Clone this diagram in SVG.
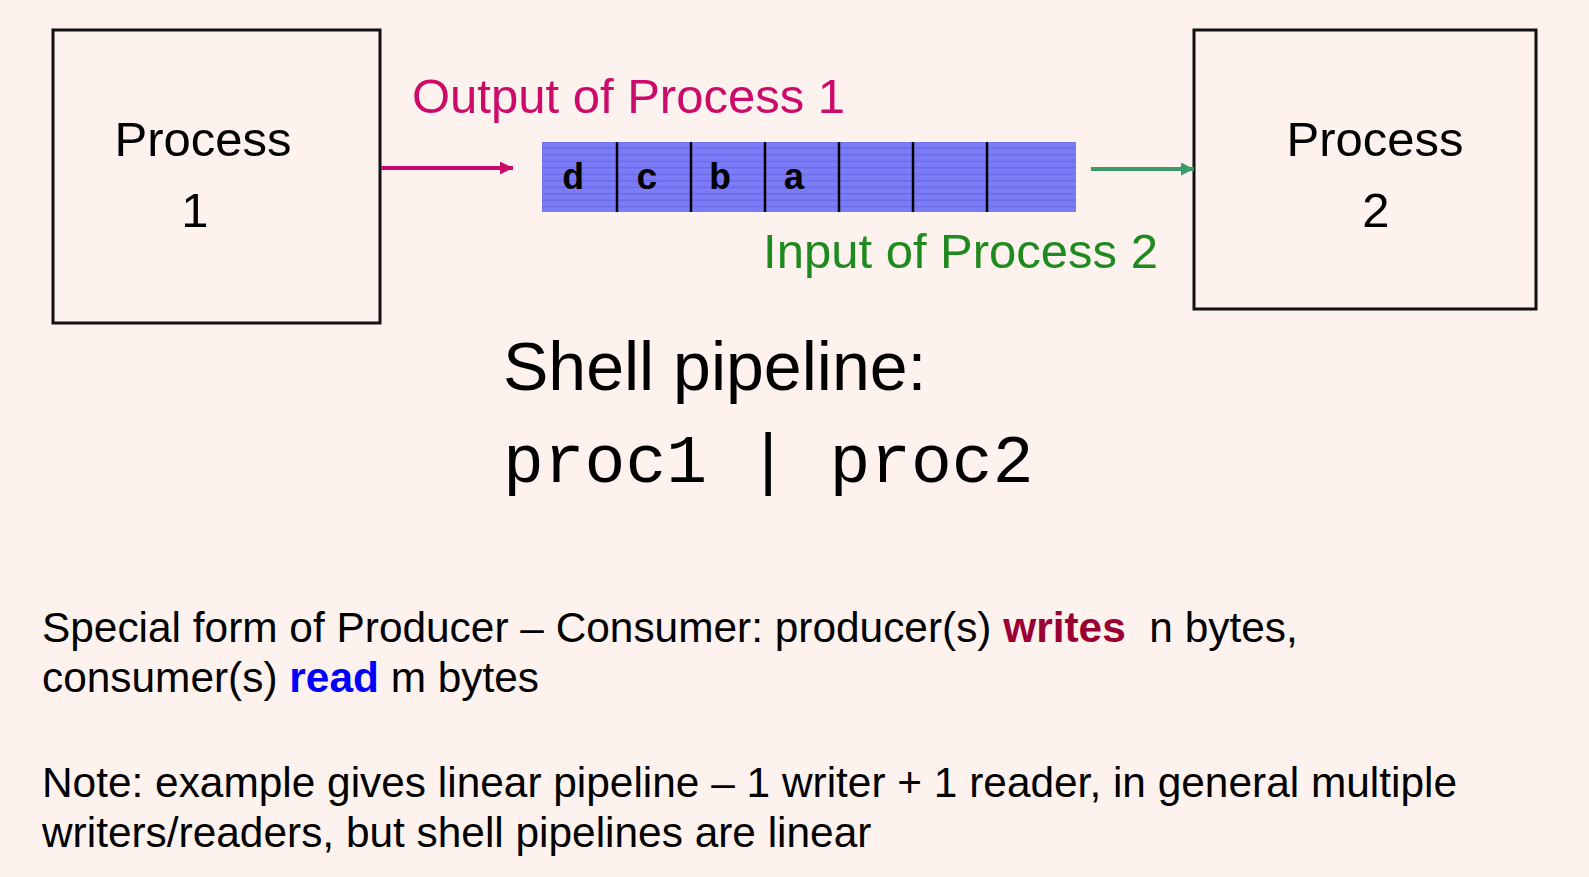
<svg xmlns="http://www.w3.org/2000/svg" width="1589" height="877" viewBox="0 0 1589 877">
<defs>
<style>
.sans{font-family:"Liberation Sans",Arial,sans-serif}
.mono{font-family:"Liberation Mono","Courier New",monospace}
.box{fill:none;stroke:#111;stroke-width:3}
.lbl{font-size:49px;fill:#000}
.cell{font-size:37px;font-weight:bold;fill:#000}
.div{stroke:#000;stroke-width:2.5}
.body{font-size:42.4px;fill:#000}
</style>
<pattern id="stripes" width="10" height="6.5" patternUnits="userSpaceOnUse">
<rect width="10" height="6.5" fill="#7c7cf7"/>
<rect y="4.5" width="10" height="1.5" fill="#6a6ae8"/>
</pattern>
<marker id="arrM" viewBox="0 0 10 10" refX="10" refY="5" markerWidth="16" markerHeight="13" markerUnits="userSpaceOnUse" orient="auto">
<path d="M0,0 L10,5 L0,10 z" fill="#cc0a6a"/>
</marker>
<marker id="arrG" viewBox="0 0 10 10" refX="10" refY="5" markerWidth="16" markerHeight="13" markerUnits="userSpaceOnUse" orient="auto">
<path d="M0,0 L10,5 L0,10 z" fill="#3a9a6a"/>
</marker>
</defs>
<rect width="1589" height="877" fill="#fdf2ed"/>

<g id="process1">
<rect class="box" x="53" y="30" width="327" height="293"/>
<text class="sans lbl" x="203" y="156" text-anchor="middle">Process</text>
<text class="sans lbl" x="195" y="227" text-anchor="middle">1</text>
</g>

<g id="process2">
<rect class="box" x="1194" y="30" width="342" height="279"/>
<text class="sans lbl" x="1375" y="156" text-anchor="middle">Process</text>
<text class="sans lbl" x="1376" y="227" text-anchor="middle">2</text>
</g>

<g id="pipe">
<rect x="542" y="142" width="534" height="70" fill="url(#stripes)"/>
<line class="div" x1="617" y1="142" x2="617" y2="212"/>
<line class="div" x1="691" y1="142" x2="691" y2="212"/>
<line class="div" x1="765" y1="142" x2="765" y2="212"/>
<line class="div" x1="839" y1="142" x2="839" y2="212"/>
<line class="div" x1="913" y1="142" x2="913" y2="212"/>
<line class="div" x1="987" y1="142" x2="987" y2="212"/>
<text class="mono cell" x="573" y="189" text-anchor="middle">d</text>
<text class="mono cell" x="647" y="189" text-anchor="middle">c</text>
<text class="mono cell" x="720" y="189" text-anchor="middle">b</text>
<text class="mono cell" x="794" y="189" text-anchor="middle">a</text>
</g>

<g id="connectors">
<line x1="381" y1="168" x2="513" y2="168" stroke="#cc0a6a" stroke-width="4" marker-end="url(#arrM)"/>
<line x1="1091" y1="169" x2="1194" y2="169" stroke="#3a9a6a" stroke-width="4" marker-end="url(#arrG)"/>
</g>

<g id="labels">
<text class="sans" x="412" y="113" font-size="49" fill="#cc0a6a">Output of Process 1</text>
<text class="sans" x="1158" y="268" font-size="49" fill="#1f8a1f" text-anchor="end">Input of Process 2</text>
<text class="sans" x="503" y="390" font-size="68" fill="#000">Shell pipeline:</text>
<text class="mono" x="503" y="482" font-size="68" fill="#000">proc1 | proc2</text>
</g>

<g id="notes">
<text class="sans body" x="42" y="642">Special form of Producer – Consumer: producer(s) <tspan font-weight="bold" fill="#990033">writes</tspan>&#160; n bytes,</text>
<text class="sans body" x="42" y="692">consumer(s) <tspan font-weight="bold" fill="#0000ff">read</tspan> m bytes</text>
<text class="sans body" x="42" y="797">Note: example gives linear pipeline – 1 writer + 1 reader, in general multiple</text>
<text class="sans body" x="42" y="847">writers/readers, but shell pipelines are linear</text>
</g>
</svg>
